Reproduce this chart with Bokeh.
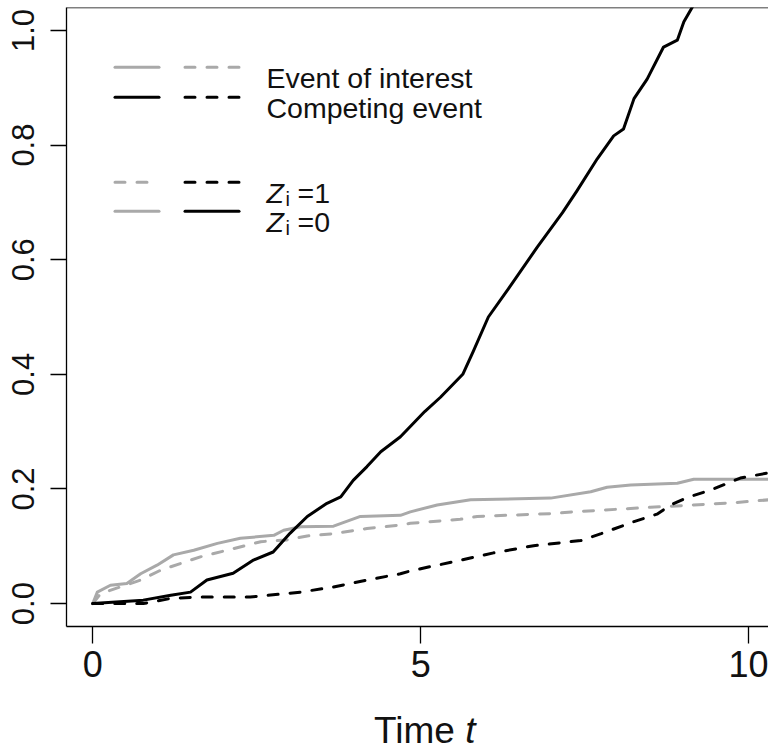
from bokeh.plotting import figure
from bokeh.layouts import column
from bokeh.models import Range1d, FixedTicker, Label, Span, NumeralTickFormatter, Div
from bokeh.embed import file_html
from bokeh.resources import INLINE

# ---------------- data ----------------
# Event of interest, Z_i = 0 (grey solid)
t_int_z0 = [0, 0.07, 0.27, 0.52, 0.73, 0.98, 1.23, 1.54, 1.90, 2.25, 2.76, 2.91, 3.17,
            3.67, 4.08, 4.69, 4.84, 5.25, 5.76, 6.98, 7.59, 7.84, 8.20, 8.91, 9.16, 10.3]
cif_int_z0 = [0, 0.020, 0.032, 0.035, 0.052, 0.067, 0.085, 0.093, 0.105, 0.114, 0.119, 0.128, 0.134,
              0.135, 0.152, 0.154, 0.160, 0.172, 0.181, 0.184, 0.195, 0.203, 0.207, 0.210, 0.217, 0.217]

# Event of interest, Z_i = 1 (grey dashed)
t_int_z1 = [0, 0.12, 0.42, 0.73, 1.03, 1.34, 1.64, 2.15, 2.56, 2.96, 3.27, 3.67, 4.18,
            4.69, 4.84, 5.60, 5.86, 6.98, 7.33, 8.50, 9.16, 9.77, 10.3]
cif_int_z1 = [0, 0.0175, 0.029, 0.041, 0.058, 0.070, 0.0815, 0.096, 0.108, 0.111, 0.118, 0.122, 0.131,
              0.137, 0.140, 0.147, 0.152, 0.157, 0.160, 0.168, 0.172, 0.176, 0.181]

# Competing event, Z_i = 0 (black solid)
t_cmp_z0 = [0, 0.77, 1.19, 1.49, 1.74, 2.14, 2.45, 2.75, 3.01, 3.27, 3.57, 3.78, 3.97, 4.18,
            4.39, 4.69, 5.06, 5.30, 5.64, 5.80, 6.03, 6.34, 6.77, 7.16, 7.38, 7.69, 7.94,
            8.09, 8.25, 8.45, 8.70, 8.91, 9.01, 9.14, 9.20]
cif_cmp_z0 = [0, 0.006, 0.0145, 0.020, 0.041, 0.053, 0.076, 0.090, 0.123, 0.152, 0.175, 0.186, 0.215, 0.239,
              0.265, 0.291, 0.335, 0.360, 0.400, 0.440, 0.500, 0.550, 0.621, 0.682, 0.720, 0.776, 0.816,
              0.828, 0.881, 0.915, 0.971, 0.983, 1.015, 1.041, 1.060]

# Competing event, Z_i = 1 (black dashed)
t_cmp_z1 = [0, 0.77, 1.19, 1.64, 2.40, 3.17, 3.67, 4.18, 4.69, 4.84, 5.50, 6.11, 6.72,
            7.44, 7.75, 8.25, 8.60, 8.81, 9.06, 9.42, 9.87, 10.3]
cif_cmp_z1 = [0, 0.0, 0.009, 0.0115, 0.0115, 0.020, 0.029, 0.041, 0.052, 0.057, 0.073, 0.0885, 0.101,
              0.110, 0.122, 0.143, 0.156, 0.172, 0.185, 0.198, 0.219, 0.228]

x_ticks = [0, 5, 10]
y_ticks = [0.0, 0.2, 0.4, 0.6, 0.8, 1.0]
x_title = "Time"
x_title_italic = "t"
legend_event_labels = ["Event of interest", "Competing event"]
legend_z_values = ["1", "0"]

# ---------------- style / layout ----------------
GREY = "#A9A9A9"
BLACK = "#000000"
TXT = "#111111"
FONT = "Liberation Sans"
LW = 3
DASH = "10 12"

W = 768
H_MAIN = 700          # main figure
H_TITLE = 50          # strip under it holding the x-axis title
LEFT, TOP, FRAME_BOTTOM = 66, 7, 626
X0, X1 = -0.4, 10.3
Y0, Y1 = -0.04, 1.04
FW = W - LEFT
FH = FRAME_BOTTOM - TOP


def sx(px):
    return X0 + (px - LEFT) / FW * (X1 - X0)


def sy(py):
    return Y1 - (py - TOP) / FH * (Y1 - Y0)


p = figure(width=W, height=H_MAIN, output_backend="svg", toolbar_location=None,
           x_range=Range1d(X0, X1), y_range=Range1d(Y0, Y1),
           min_border_left=LEFT, min_border_right=0, min_border_top=TOP,
           min_border_bottom=H_MAIN - FRAME_BOTTOM)
p.outline_line_color = None
p.xgrid.visible = False
p.ygrid.visible = False
p.background_fill_color = "white"
p.border_fill_color = "white"

# axes
p.xaxis.ticker = FixedTicker(ticks=x_ticks)
p.yaxis.ticker = FixedTicker(ticks=y_ticks)
p.yaxis.formatter = NumeralTickFormatter(format="0.0")
for ax in (p.xaxis[0], p.yaxis[0]):
    ax.axis_line_color = BLACK
    ax.axis_line_width = 1.3
    ax.major_tick_line_color = BLACK
    ax.major_tick_line_width = 1.3
    ax.major_tick_in = 0
    ax.minor_tick_line_color = None
    ax.major_label_text_font = FONT
    ax.major_label_text_color = TXT
p.xaxis.major_tick_out = 17
p.xaxis.major_label_text_font_size = "36px"
p.xaxis.major_label_standoff = 7
p.yaxis.major_tick_out = 16
p.yaxis.major_label_text_font_size = "31px"
p.yaxis.major_label_orientation = "vertical"
p.yaxis.major_label_standoff = 16

# top edge of the box
p.add_layout(Span(location=Y1, dimension="width", line_color=BLACK, line_width=1.3))

# curves
p.line(t_int_z0, cif_int_z0, line_color=GREY, line_width=LW, line_cap="round", line_join="round")
p.line(t_int_z1, cif_int_z1, line_color=GREY, line_width=LW, line_dash=DASH, line_cap="round",
       line_join="round")
p.line(t_cmp_z1, cif_cmp_z1, line_color=BLACK, line_width=LW, line_dash=DASH, line_cap="round",
       line_join="round")
p.line(t_cmp_z0, cif_cmp_z0, line_color=BLACK, line_width=LW, line_cap="round", line_join="round")

# legend (drawn by hand: two key columns)
col1 = (114.5, 158.5)
col2 = (184.5, 238.5)
rows1 = [66.7, 96.7]
rows2 = [181.7, 210.7]
TEXT_X = 266
LFS = "28.5px"

legend1 = [(GREY, None, GREY, DASH), (BLACK, None, BLACK, DASH)]
for (c1, d1, c2, d2), ry, lab in zip(legend1, rows1, legend_event_labels):
    p.segment(x0=[sx(col1[0])], y0=[sy(ry)], x1=[sx(col1[1])], y1=[sy(ry)],
              line_color=c1, line_width=LW, line_cap="round")
    p.segment(x0=[sx(col2[0])], y0=[sy(ry)], x1=[sx(col2[1])], y1=[sy(ry)],
              line_color=c2, line_width=LW, line_dash=d2, line_cap="round")
    p.add_layout(Label(x=sx(TEXT_X), y=sy(ry + 10.5), text=lab, text_font=FONT,
                       text_font_size=LFS, text_color=TXT, text_baseline="alphabetic"))

legend2 = [(GREY, DASH, BLACK, DASH), (GREY, None, BLACK, None)]
for (c1, d1, c2, d2), ry, zval in zip(legend2, rows2, legend_z_values):
    kw1 = dict(line_dash=d1) if d1 else {}
    kw2 = dict(line_dash=d2) if d2 else {}
    p.segment(x0=[sx(col1[0])], y0=[sy(ry)], x1=[sx(col1[1])], y1=[sy(ry)],
              line_color=c1, line_width=LW, line_cap="round", **kw1)
    p.segment(x0=[sx(col2[0])], y0=[sy(ry)], x1=[sx(col2[1])], y1=[sy(ry)],
              line_color=c2, line_width=LW, line_cap="round", **kw2)
    p.add_layout(Label(x=sx(TEXT_X), y=sy(ry + 10.5), text="Z", text_font=FONT,
                       text_font_style="italic", text_font_size=LFS, text_color=TXT,
                       text_baseline="alphabetic"))
    p.add_layout(Label(x=sx(TEXT_X + 19), y=sy(ry + 17), text="i", text_font=FONT,
                       text_font_size="20px", text_color=TXT, text_baseline="alphabetic"))
    p.add_layout(Label(x=sx(TEXT_X + 31), y=sy(ry + 10.5), text="=" + zval, text_font=FONT,
                       text_font_size=LFS, text_color=TXT, text_baseline="alphabetic"))

# ---------------- strip with the x-axis title "Time t" (t in italics) ----------------
title_html = (
    f'<div style="position:relative;width:{W}px;height:{H_TITLE}px;margin:0;padding:0;">'
    f'<span style="position:absolute;left:374px;top:12px;font-family:\'{FONT}\';'
    f'font-size:37px;line-height:37px;color:{TXT};white-space:nowrap;">'
    f'{x_title} <i>{x_title_italic}</i></span></div>'
)
title_div = Div(text=title_html, width=W, height=H_TITLE, margin=(0, 0, 0, 0))

layout = column(p, title_div, spacing=0)
open("out.html", "w").write(file_html(layout, INLINE))
